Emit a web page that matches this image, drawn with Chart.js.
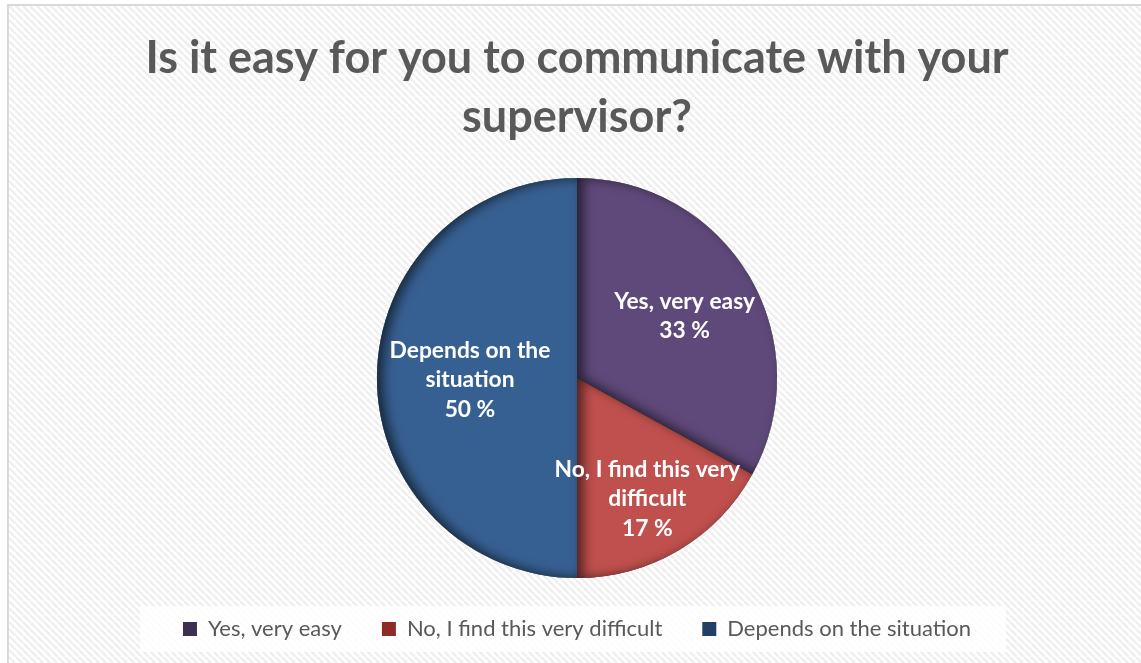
<!DOCTYPE html>
<html>
<head>
<meta charset="utf-8">
<title>Is it easy for you to communicate with your supervisor?</title>
<script src="https://cdn.jsdelivr.net/npm/chart.js@4.4.1/dist/chart.umd.min.js"></script>
<style>
  html, body { margin: 0; padding: 0; background: #ffffff; overflow: hidden; }
  #frame {
    position: absolute; left: 7px; top: 4px;
    width: 1136px; height: 657px;
    border-top: 2px solid #d9d9d9; border-left: 2px solid #d9d9d9;
  }
  #frame canvas { display: block; }
</style>
</head>
<body>
<div id="frame"><canvas id="chart"></canvas></div>
<script>
// Survey answers
const categories = ['Yes, very easy', 'No, I find this very difficult', 'Depends on the situation'];
const shares = [33, 17, 50];
const sliceLabels = [['Yes, very easy', '33 %'], ['No, I find this very', 'difficult', '17 %'], ['Depends on the', 'situation', '50 %']];
const titleLines = ['Is it easy for you to communicate with your', 'supervisor?'];

const sliceColors = ['#5f497a', '#c0504d', '#376092'];
const legendColors = ['#3c2f52', '#8c2b28', '#223f66'];
const FONT = 'Lato, "Open Sans", sans-serif';

// Diagonal hatch used for the chart background
function hatchPattern(ctx) {
  const s = 7;
  const tile = document.createElement('canvas');
  tile.width = s; tile.height = s;
  const t = tile.getContext('2d');
  t.fillStyle = '#ffffff';
  t.fillRect(0, 0, s, s);
  t.strokeStyle = '#efefef';
  t.lineWidth = 2.6;
  for (const o of [-s, 0, s]) {
    t.beginPath();
    t.moveTo(o, 0);
    t.lineTo(o + s, s);
    t.stroke();
  }
  return ctx.createPattern(tile, 'repeat');
}

const backdrop = {
  id: 'backdrop',
  beforeDraw(chart) {
    const ctx = chart.ctx;
    ctx.save();
    ctx.fillStyle = hatchPattern(ctx);
    ctx.fillRect(0, 0, chart.width, chart.height);
    // panel behind the legend
    const boxes = chart.legend && chart.legend.legendHitBoxes;
    if (boxes && boxes.length) {
      const first = boxes[0], last = boxes[boxes.length - 1];
      const left = first.left - 43, right = last.left + last.width + 35;
      const cy = first.top + first.height / 2;
      ctx.fillStyle = 'rgba(255,255,255,0.82)';
      ctx.fillRect(left, cy - 23, right - left, 46);
    }
    ctx.restore();
  }
};

function slicePath(ctx, a) {
  ctx.beginPath();
  ctx.moveTo(a.x, a.y);
  ctx.arc(a.x, a.y, a.outerRadius, a.startAngle, a.endAngle);
  ctx.closePath();
}

const sliceDecor = {
  id: 'sliceDecor',
  afterDatasetsDraw(chart, args, opts) {
    const ctx = chart.ctx;
    const arcs = chart.getDatasetMeta(0).data;
    // inner shadow along the left-hand edges of each slice
    arcs.forEach(a => {
      ctx.save();
      slicePath(ctx, a);
      ctx.clip();
      ctx.beginPath();
      ctx.rect(a.x - 2000, a.y - 2000, 4000, 4000);
      ctx.moveTo(a.x, a.y);
      ctx.arc(a.x, a.y, a.outerRadius, a.startAngle, a.endAngle);
      ctx.closePath();
      ctx.shadowColor = 'rgba(0,0,0,0.6)';
      ctx.shadowBlur = 12;
      ctx.shadowOffsetX = 6;
      ctx.shadowOffsetY = 0;
      ctx.fillStyle = '#000';
      ctx.fill('evenodd');
      ctx.restore();
    });
    // value labels inside the slices
    ctx.save();
    ctx.fillStyle = '#ffffff';
    ctx.font = 'bold 22.8px ' + FONT;
    ctx.textAlign = 'center';
    ctx.textBaseline = 'middle';
    arcs.forEach((a, i) => {
      const mid = (a.startAngle + a.endAngle) / 2;
      const r = a.outerRadius * opts.radial[i];
      const cx = a.x + Math.cos(mid) * r;
      const cy = a.y + Math.sin(mid) * r + 2;
      const lines = sliceLabels[i];
      const lh = 29.5;
      lines.forEach((ln, k) => {
        ctx.fillText(ln, cx, cy + (k - (lines.length - 1) / 2) * lh);
      });
    });
    ctx.restore();
  }
};

new Chart(document.getElementById('chart'), {
  type: 'pie',
  data: {
    labels: categories,
    datasets: [{
      data: shares,
      backgroundColor: sliceColors,
      borderWidth: 0,
      hoverOffset: 0
    }]
  },
  options: {
    responsive: true,
    maintainAspectRatio: false,
    animation: false,
    layout: { padding: { bottom: 13 } },
    plugins: {
      title: {
        display: true,
        text: titleLines,
        color: '#595959',
        font: { family: FONT, size: 45, weight: 'bold', lineHeight: 1.31 },
        padding: { top: 23, bottom: 31 }
      },
      legend: {
        position: 'bottom',
        labels: {
          color: '#595959',
          font: { family: FONT, size: 22 },
          boxWidth: 14,
          boxHeight: 14,
          padding: 40,
          generateLabels(chart) {
            return categories.map((c, i) => ({
              text: c,
              fillStyle: legendColors[i],
              strokeStyle: legendColors[i],
              lineWidth: 0,
              fontColor: '#595959',
              index: i,
              hidden: false
            }));
          }
        }
      },
      tooltip: { enabled: false },
      sliceDecor: { radial: [0.625, 0.69, 0.535] }
    }
  },
  plugins: [backdrop, sliceDecor]
});
</script>
</body>
</html>
